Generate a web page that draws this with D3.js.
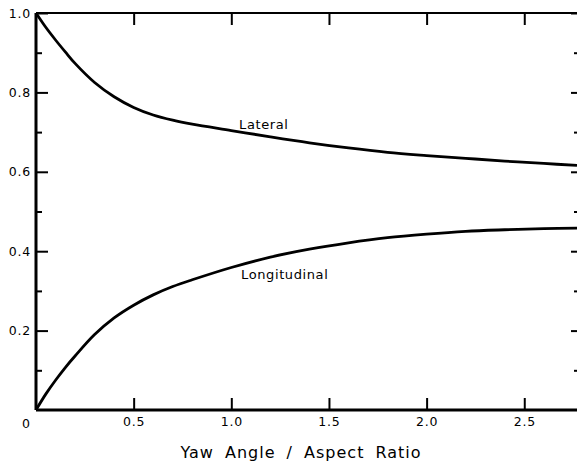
<!DOCTYPE html>
<html>
<head>
<meta charset="utf-8">
<script src="https://cdn.jsdelivr.net/npm/d3@7"></script>
<style>
  html, body { margin: 0; padding: 0; background: #fff; }
  svg { display: block; }
  .axis text { font-family: "DejaVu Sans", sans-serif; font-size: 12.5px; fill: #000; letter-spacing: 0.8px; }
  .axis path { display: none; }
  .axis line { stroke: #000; stroke-width: 2px; }
  .curve-label { font-family: "DejaVu Sans", sans-serif; font-size: 13px; letter-spacing: 0.6px; }
  .title { font-family: "DejaVu Sans", sans-serif; font-size: 16px; letter-spacing: 1px; word-spacing: 5px; }
</style>
</head>
<body>
<div id="chart"></div>
<script>
// ratio values along the x axis
const ratio = [0, 0.05, 0.1, 0.15, 0.2, 0.3, 0.4, 0.5, 0.6, 0.7, 0.8, 1.0, 1.2, 1.4, 1.6, 1.8, 2.0, 2.2, 2.4, 2.6, 2.77];
const lateral = [1.0, 0.964, 0.932, 0.902, 0.873, 0.825, 0.789, 0.762, 0.743, 0.73, 0.72, 0.704, 0.688, 0.673, 0.66, 0.649, 0.641, 0.634, 0.627, 0.621, 0.616];
const longitudinal = [0, 0.04, 0.075, 0.107, 0.136, 0.19, 0.232, 0.264, 0.29, 0.311, 0.328, 0.359, 0.385, 0.405, 0.421, 0.434, 0.443, 0.45, 0.454, 0.457, 0.458];

const xMajor = [0.5, 1.0, 1.5, 2.0, 2.5];
const yMajor = [0.2, 0.4, 0.6, 0.8, 1.0];
const yMinor = [0.1, 0.3, 0.5, 0.7, 0.9];

const margin = { top: 13, right: 0, bottom: 53, left: 36 };
const width = 577 - margin.left - margin.right;
const height = 463 - margin.top - margin.bottom;

const svg = d3.select("#chart")
  .append("svg")
  .attr("width", 577)
  .attr("height", 463)
  .append("g")
  .attr("transform", `translate(${margin.left},${margin.top})`);

const x = d3.scaleLinear().domain([0, 2.77]).range([0, width]);
const y = d3.scaleLinear().domain([0, 1]).range([height, 0]);

// left axis, ticks inward
svg.append("g")
  .attr("class", "axis")
  .call(d3.axisLeft(y).tickValues(yMajor).tickSize(-12).tickPadding(5).tickFormat(d3.format(".1f")));
svg.append("g")
  .attr("class", "axis")
  .call(d3.axisLeft(y).tickValues(yMinor).tickSize(-6).tickFormat(() => ""));

// right side ticks (frame is cut at the edge)
svg.append("g")
  .attr("class", "axis")
  .attr("transform", `translate(${width},0)`)
  .call(d3.axisRight(y).tickValues(yMajor).tickSize(-6).tickFormat(() => ""));
svg.append("g")
  .attr("class", "axis")
  .attr("transform", `translate(${width},0)`)
  .call(d3.axisRight(y).tickValues(yMinor).tickSize(-3).tickFormat(() => ""));

// bottom axis
svg.append("g")
  .attr("class", "axis")
  .attr("transform", `translate(0,${height})`)
  .call(d3.axisBottom(x).tickValues(xMajor).tickSize(-12).tickPadding(7).tickFormat(d3.format(".1f")));

// top ticks
svg.append("g")
  .attr("class", "axis")
  .call(d3.axisTop(x).tickValues(xMajor).tickSize(-12).tickFormat(() => ""));

// zero shared by both axes
svg.append("text")
  .attr("x", x(0) - 10)
  .attr("y", y(0) + 18)
  .attr("text-anchor", "middle")
  .style("font-family", "DejaVu Sans, sans-serif")
  .style("font-size", "12.5px")
  .text("0");

// frame lines
svg.append("line")
  .attr("x1", 0).attr("x2", width)
  .attr("y1", y(1)).attr("y2", y(1))
  .attr("stroke", "#000").attr("stroke-width", 2);
svg.append("line")
  .attr("x1", 0).attr("x2", 0)
  .attr("y1", y(1)).attr("y2", y(0))
  .attr("stroke", "#000").attr("stroke-width", 3);
svg.append("line")
  .attr("x1", 0).attr("x2", width)
  .attr("y1", y(0)).attr("y2", y(0))
  .attr("stroke", "#000").attr("stroke-width", 3);

const line = d3.line()
  .x(d => x(d[0]))
  .y(d => y(d[1]))
  .curve(d3.curveCatmullRom.alpha(0.5));

svg.append("path")
  .datum(ratio.map((r, i) => [r, lateral[i]]))
  .attr("fill", "none")
  .attr("stroke", "#000")
  .attr("stroke-width", 2.8)
  .attr("d", line);

svg.append("path")
  .datum(ratio.map((r, i) => [r, longitudinal[i]]))
  .attr("fill", "none")
  .attr("stroke", "#000")
  .attr("stroke-width", 2.8)
  .attr("d", line);

// curve labels
svg.append("text")
  .attr("class", "curve-label")
  .attr("x", x(1.04))
  .attr("y", y(0.705) - 1)
  .text("Lateral");
svg.append("text")
  .attr("class", "curve-label")
  .attr("x", x(1.05))
  .attr("y", y(0.33))
  .text("Longitudinal");

// x axis title
svg.append("text")
  .attr("class", "title")
  .attr("x", 265)
  .attr("y", height + 48)
  .attr("text-anchor", "middle")
  .text("Yaw Angle / Aspect Ratio");
</script>
</body>
</html>
